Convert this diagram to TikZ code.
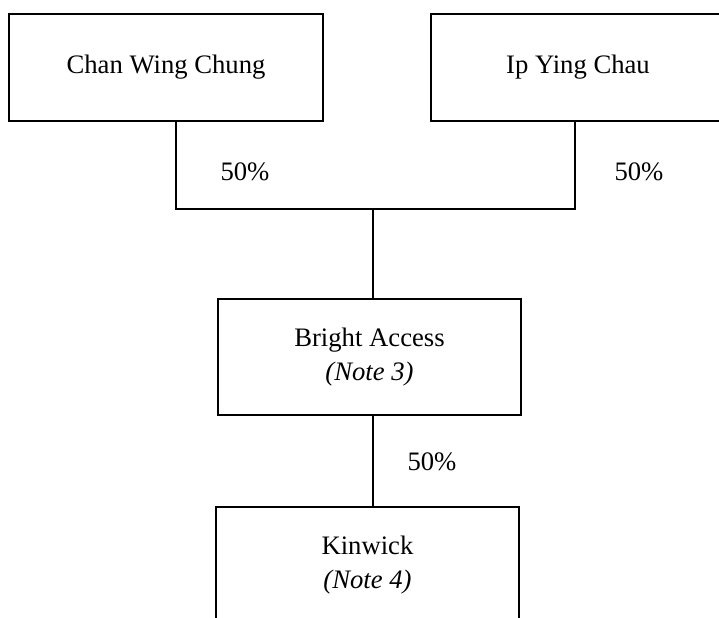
\documentclass[tikz,border=0pt]{standalone}
\usepackage{fontspec}
\setmainfont{Liberation Serif}
\usetikzlibrary{calc}
\begin{document}
\begin{tikzpicture}[x=0.375pt,y=-0.375pt,line width=0.6pt,
		every node/.style={font=\fontsize{10}{13}\selectfont,align=center,inner sep=0pt}]
				\useasboundingbox (0,0) rectangle (719,618);
				\clip (0,0) rectangle (719,618);
				
				\begin{scope}[every node/.append style={rectangle,draw,minimum height=40.1pt}]
					\node[minimum width=117.75pt] (chan) at (166,67.5) {Chan Wing Chung};
					\node[minimum width=110.25pt] (ip) at (578,67.5) {Ip Ying Chau};
					\node[minimum width=113.6pt,minimum height=43.5pt] (bright) at (369.5,357) {Bright Access\\\textit{(Note 3)}};
					\node[minimum width=113.6pt,minimum height=43.5pt] (kinwick) at (367.5,565) {Kinwick\\\textit{(Note 4)}};
				\end{scope}
				
				\coordinate (join) at (373,209);
				\draw ($(chan.south)+(10,0)$) |- (join) -| ($(ip.south)+(-3,0)$);
				\draw (join) -- (join |- bright.north);
				\draw (join |- bright.south) -- (join |- kinwick.north);
				
				\node (pctchan) at (245,172) {50\%};
				\node (pctip) at (639,172) {50\%};
				\node (pctbright) at (432,462) {50\%};
			\end{tikzpicture}
\end{document}
